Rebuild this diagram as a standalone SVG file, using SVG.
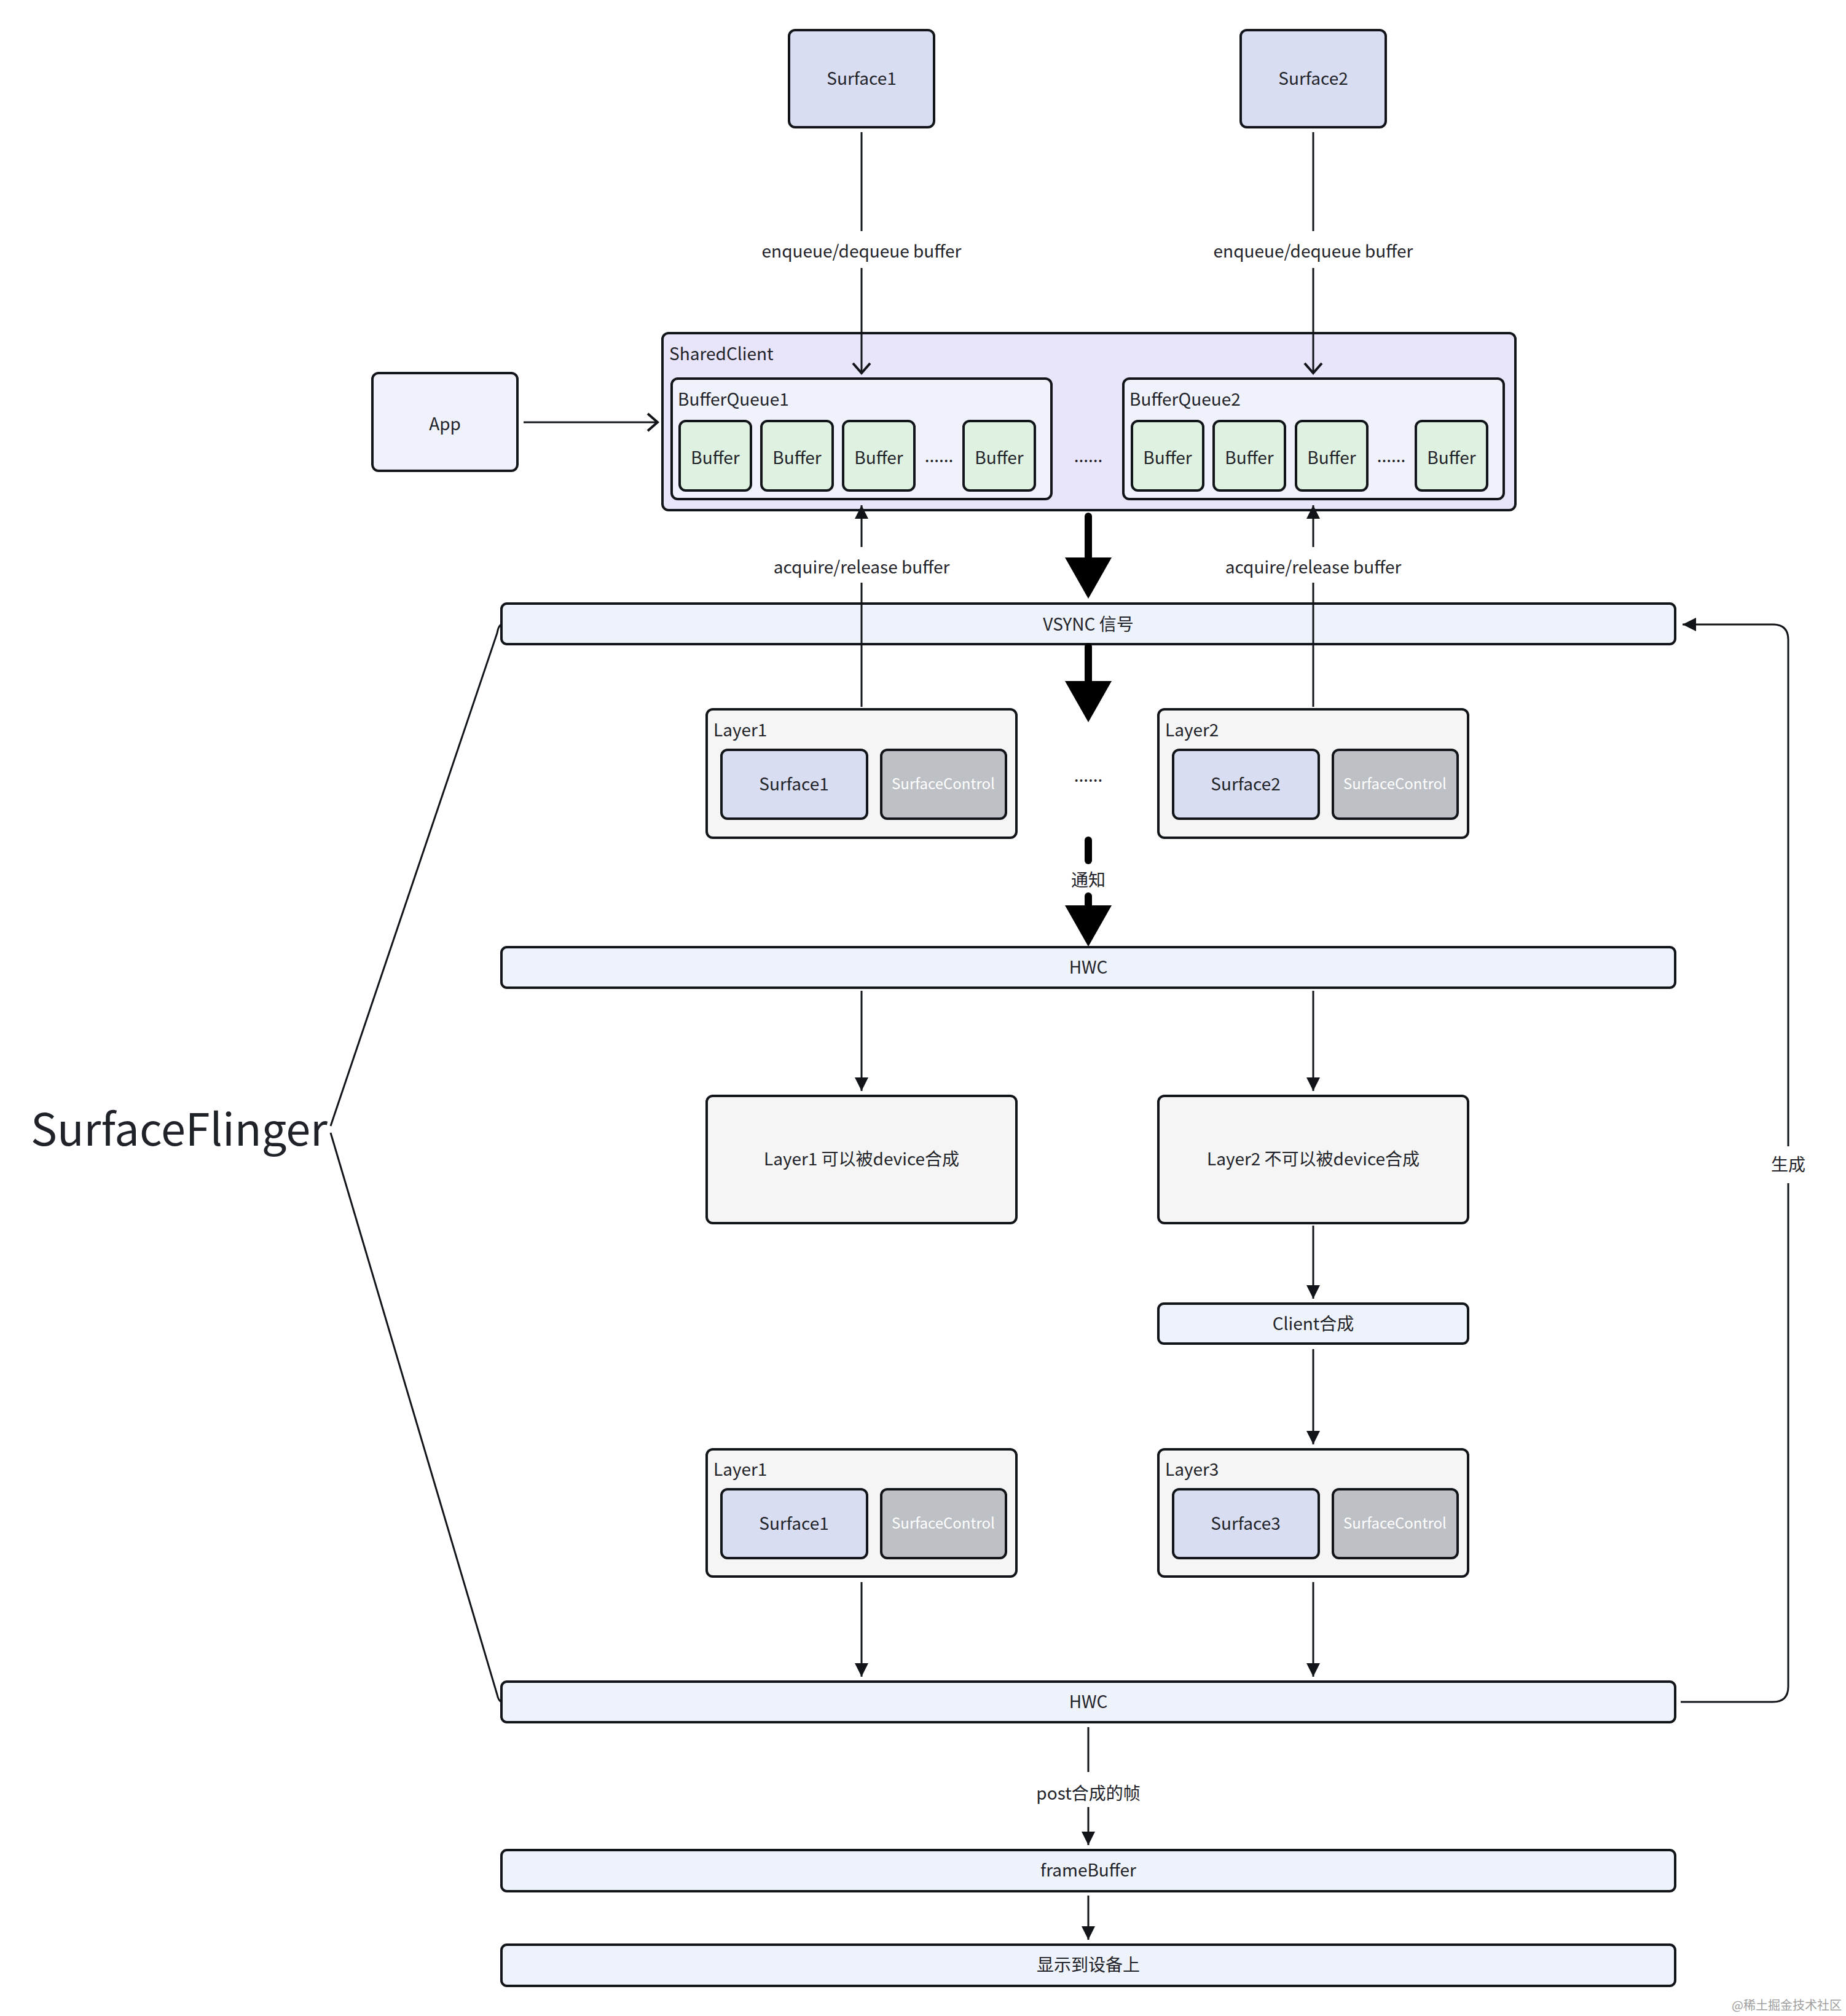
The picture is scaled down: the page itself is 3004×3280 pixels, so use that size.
<svg xmlns="http://www.w3.org/2000/svg" width="3004" height="3280" viewBox="0 0 3004 3280">
<style>
text{font-family:"Noto Sans CJK SC","Noto Sans","Liberation Sans",sans-serif;fill:#1f2329;font-size:28px}
.c{text-anchor:middle}
.box{stroke:#111418;stroke-width:4}
.surf{fill:#d9ddf1}
.sc{fill:#bdc0c5}
.sct{fill:#ffffff;font-size:24px}
.buf{fill:#dff2e1}
.bq{fill:#eff2fb}
.layer{fill:#f5f5f5}
.bar{fill:#eef2fb}
.ln{fill:none;stroke:#111418;stroke-width:3}
.thick{fill:none;stroke:#000;stroke-width:12;stroke-linecap:round}
</style>
<defs>
<marker id="fa" markerUnits="userSpaceOnUse" markerWidth="24" markerHeight="24" refX="22" refY="11" orient="auto" viewBox="0 0 24 24">
<path d="M0,0 L22,11 L0,22 z" fill="#111418"/>
</marker>
<marker id="oa" markerUnits="userSpaceOnUse" markerWidth="24" markerHeight="32" refX="16" refY="14" orient="auto" viewBox="-2 -2 24 32">
<path d="M0,0 L16,14 L0,28" fill="none" stroke="#111418" stroke-width="4"/>
</marker>
<marker id="ta" markerUnits="userSpaceOnUse" markerWidth="70" markerHeight="78" refX="0" refY="38" orient="auto" viewBox="0 0 70 78">
<path d="M0,0 L67,38 L0,76 z" fill="#000"/>
</marker>
</defs>
<rect width="3004" height="3280" fill="#ffffff"/>

<g id="surface1-top"><rect class="box surf" x="1284" y="49" width="236" height="158" rx="10"/><text class="c" x="1402" y="138">Surface1</text></g>
<g id="surface2-top"><rect class="box surf" x="2019" y="49" width="236" height="158" rx="10"/><text class="c" x="2137" y="138">Surface2</text></g>

<g id="app"><rect class="box bq" x="606" y="607" width="236" height="159" rx="10"/><text class="c" x="724" y="700">App</text></g>

<g id="sharedclient">
<rect class="box" fill="#e8e4fa" x="1078" y="542" width="1388" height="288" rx="10"/>
<text x="1089" y="586">SharedClient</text>
<text class="c" x="1771" y="752">......</text>
</g>
<g id="bufferqueue1">
<rect class="box bq" x="1093" y="616" width="618" height="196" rx="10"/>
<text x="1103" y="660">BufferQueue1</text>
<rect class="box buf" x="1106" y="685" width="116" height="113" rx="10"/><text class="c" x="1164" y="755">Buffer</text>
<rect class="box buf" x="1239" y="685" width="116" height="113" rx="10"/><text class="c" x="1297" y="755">Buffer</text>
<rect class="box buf" x="1372" y="685" width="116" height="113" rx="10"/><text class="c" x="1430" y="755">Buffer</text>
<text class="c" x="1528" y="752">......</text>
<rect class="box buf" x="1568" y="685" width="116" height="113" rx="10"/><text class="c" x="1626" y="755">Buffer</text>
</g>
<g id="bufferqueue2">
<rect class="box bq" x="1828" y="616" width="619" height="196" rx="10"/>
<text x="1838" y="660">BufferQueue2</text>
<rect class="box buf" x="1842" y="685" width="116" height="113" rx="10"/><text class="c" x="1900" y="755">Buffer</text>
<rect class="box buf" x="1975" y="685" width="116" height="113" rx="10"/><text class="c" x="2033" y="755">Buffer</text>
<rect class="box buf" x="2109" y="685" width="116" height="113" rx="10"/><text class="c" x="2167" y="755">Buffer</text>
<text class="c" x="2264" y="752">......</text>
<rect class="box buf" x="2304" y="685" width="116" height="113" rx="10"/><text class="c" x="2362" y="755">Buffer</text>
</g>

<g id="vsync"><rect class="box bar" x="816" y="982" width="1910" height="66" rx="9"/><text class="c" x="1771" y="1026">VSYNC 信号</text></g>

<g id="layer1-top">
<rect class="box layer" x="1150" y="1154" width="504" height="209" rx="10"/>
<text x="1161" y="1198">Layer1</text>
<rect class="box surf" x="1174" y="1220" width="237" height="112" rx="10"/><text class="c" x="1292" y="1286">Surface1</text>
<rect class="box sc" x="1434" y="1220" width="203" height="112" rx="10"/><text class="c sct" x="1535" y="1284">SurfaceControl</text>
</g>
<g id="dots-layers"><text class="c" x="1771" y="1272">......</text></g>
<g id="layer2-top">
<rect class="box layer" x="1885" y="1154" width="504" height="209" rx="10"/>
<text x="1896" y="1198">Layer2</text>
<rect class="box surf" x="1909" y="1220" width="237" height="112" rx="10"/><text class="c" x="2027" y="1286">Surface2</text>
<rect class="box sc" x="2169" y="1220" width="203" height="112" rx="10"/><text class="c sct" x="2270" y="1284">SurfaceControl</text>
</g>

<g id="hwc1"><rect class="box bar" x="816" y="1541" width="1910" height="66" rx="9"/><text class="c" x="1771" y="1584">HWC</text></g>

<g id="layer1-device"><rect class="box layer" x="1150" y="1783" width="504" height="207" rx="10"/><text class="c" x="1402" y="1896">Layer1 可以被device合成</text></g>
<g id="layer2-device"><rect class="box layer" x="1885" y="1783" width="504" height="207" rx="10"/><text class="c" x="2137" y="1896">Layer2 不可以被device合成</text></g>

<g id="client"><rect class="box bar" x="1885" y="2121" width="504" height="65" rx="9"/><text class="c" x="2137" y="2164">Client合成</text></g>

<g id="layer1-bottom">
<rect class="box layer" x="1150" y="2358" width="504" height="207" rx="10"/>
<text x="1161" y="2401">Layer1</text>
<rect class="box surf" x="1174" y="2423" width="237" height="112" rx="10"/><text class="c" x="1292" y="2489">Surface1</text>
<rect class="box sc" x="1434" y="2423" width="203" height="112" rx="10"/><text class="c sct" x="1535" y="2487">SurfaceControl</text>
</g>
<g id="layer3">
<rect class="box layer" x="1885" y="2358" width="504" height="207" rx="10"/>
<text x="1896" y="2401">Layer3</text>
<rect class="box surf" x="1909" y="2423" width="237" height="112" rx="10"/><text class="c" x="2027" y="2489">Surface3</text>
<rect class="box sc" x="2169" y="2423" width="203" height="112" rx="10"/><text class="c sct" x="2270" y="2487">SurfaceControl</text>
</g>

<g id="hwc2"><rect class="box bar" x="816" y="2736" width="1910" height="66" rx="9"/><text class="c" x="1771" y="2779">HWC</text></g>
<g id="framebuffer"><rect class="box bar" x="816" y="3010" width="1910" height="67" rx="9"/><text class="c" x="1771" y="3053">frameBuffer</text></g>
<g id="display"><rect class="box bar" x="816" y="3164" width="1910" height="67" rx="9"/><text class="c" x="1771" y="3207">显示到设备上</text></g>

<g id="surfaceflinger"><text x="50" y="1864" style="font-size:72px">SurfaceFlinger</text></g>

<g id="connectors">
<path class="ln" d="M1402 215 V376"/><path class="ln" d="M1402 436 V607" marker-end="url(#oa)"/>
<text class="c" x="1402" y="419">enqueue/dequeue buffer</text>
<path class="ln" d="M2137 215 V376"/><path class="ln" d="M2137 436 V607" marker-end="url(#oa)"/>
<text class="c" x="2137" y="419">enqueue/dequeue buffer</text>
<path class="ln" d="M852 687 H1070" marker-end="url(#oa)"/>
<path class="ln" d="M1402 1150 V948"/><path class="ln" d="M1402 890 V822" marker-end="url(#fa)"/>
<text class="c" x="1402" y="933">acquire/release buffer</text>
<path class="ln" d="M2137 1150 V948"/><path class="ln" d="M2137 890 V822" marker-end="url(#fa)"/>
<text class="c" x="2137" y="933">acquire/release buffer</text>
<path class="thick" d="M1771 840 V907" marker-end="url(#ta)"/>
<path class="thick" d="M1771 1052 V1108" marker-end="url(#ta)"/>
<path class="thick" d="M1771 1367 V1400"/><path class="thick" d="M1771 1458 V1473" marker-end="url(#ta)"/>
<text class="c" x="1771" y="1442">通知</text>
<path class="ln" d="M1402 1612 V1775" marker-end="url(#fa)"/>
<path class="ln" d="M2137 1612 V1775" marker-end="url(#fa)"/>
<path class="ln" d="M2137 1994 V2113" marker-end="url(#fa)"/>
<path class="ln" d="M2137 2195 V2350" marker-end="url(#fa)"/>
<path class="ln" d="M1402 2574 V2728" marker-end="url(#fa)"/>
<path class="ln" d="M2137 2574 V2728" marker-end="url(#fa)"/>
<path class="ln" d="M2735 2769 H2885 Q2910 2769 2910 2744 V1925"/>
<path class="ln" d="M2910 1865 V1041 Q2910 1016 2885 1016 H2738" marker-end="url(#fa)"/>
<text class="c" x="2910" y="1905">生成</text>
<path class="ln" d="M1771 2810 V2883"/><path class="ln" d="M1771 2940 V3002" marker-end="url(#fa)"/>
<text class="c" x="1771" y="2928">post合成的帧</text>
<path class="ln" d="M1771 3084 V3156" marker-end="url(#fa)"/>
<path class="ln" d="M538 1832 L809 1030 Q811 1018 816 1016"/>
<path class="ln" d="M538 1843 L809 2757 Q811 2767 816 2769"/>
</g>

<g id="watermark"><text x="2997" y="3270" style="font-size:20px;fill:#a0a0a0;text-anchor:end">@稀土掘金技术社区</text></g>
</svg>
